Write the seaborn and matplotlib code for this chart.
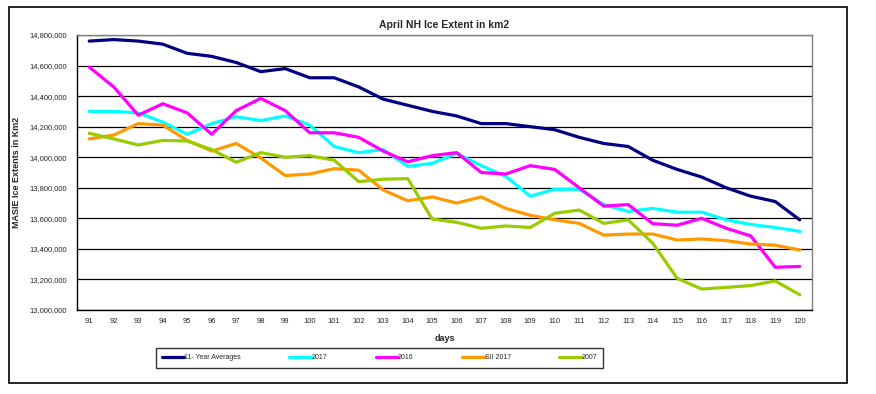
import numpy as np
import pandas as pd
import matplotlib
matplotlib.use("Agg")
import matplotlib.pyplot as plt
import seaborn as sns
from matplotlib.patches import Rectangle
from matplotlib.ticker import FuncFormatter, MultipleLocator

days = list(range(91, 121))

avg_11yr = [14760000, 14770000, 14760000, 14740000, 14680000, 14660000, 14620000, 14560000,
            14580000, 14520000, 14520000, 14460000, 14380000, 14340000, 14300000, 14270000,
            14220000, 14220000, 14200000, 14180000, 14130000, 14090000, 14070000, 13980000,
            13920000, 13870000, 13800000, 13745000, 13710000, 13590000]
y2017 = [14300000, 14300000, 14290000, 14230000, 14150000, 14220000, 14265000, 14240000,
         14270000, 14210000, 14070000, 14030000, 14050000, 13940000, 13960000, 14025000,
         13945000, 13875000, 13745000, 13790000, 13790000, 13690000, 13645000, 13665000,
         13640000, 13640000, 13590000, 13560000, 13540000, 13515000]
y2016 = [14590000, 14460000, 14275000, 14350000, 14290000, 14150000, 14305000, 14385000,
         14305000, 14160000, 14160000, 14130000, 14040000, 13970000, 14010000, 14030000,
         13900000, 13890000, 13945000, 13920000, 13800000, 13680000, 13690000, 13565000,
         13555000, 13600000, 13535000, 13485000, 13280000, 13285000]
sii2017 = [14120000, 14145000, 14220000, 14210000, 14110000, 14040000, 14090000, 13995000,
           13880000, 13890000, 13925000, 13915000, 13785000, 13715000, 13740000, 13700000,
           13740000, 13665000, 13620000, 13590000, 13567000, 13490000, 13497000, 13497000,
           13458000, 13465000, 13454000, 13432000, 13424000, 13393000]
y2007 = [14157000, 14120000, 14080000, 14110000, 14106000, 14050000, 13967000, 14030000,
         14000000, 14010000, 13980000, 13840000, 13856000, 13860000, 13595000, 13574000,
         13535000, 13550000, 13540000, 13633000, 13654000, 13567000, 13590000, 13437000,
         13207000, 13137000, 13148000, 13160000, 13190000, 13100000]

series_names = ["11- Year Averages", "2017", "2016", "SII 2017", "2007"]
series_values = [avg_11yr, y2017, y2016, sii2017, y2007]
colors = ["#000080", "#00FFFF", "#FF00FF", "#FF9900", "#99CC00"]

df = pd.DataFrame({
    "day": days * len(series_names),
    "extent": sum(series_values, []),
    "series": sum([[n] * len(days) for n in series_names], []),
})

sns.set_style("white")
plt.rcParams["font.family"] = ["Liberation Sans", "DejaVu Sans"]

fig = plt.figure(figsize=(8.76, 3.94), dpi=100)
fig.patches.append(Rectangle((0.0103, 0.0279), 0.9566, 0.954, transform=fig.transFigure,
                             fill=False, edgecolor="black", linewidth=1.2))
ax = fig.add_axes([0.0879, 0.2132, 0.839, 0.698])

sns.lineplot(data=df, x="day", y="extent", hue="series", palette=colors,
             hue_order=series_names, linewidth=2.3, ax=ax, legend=False)

ax.set_xlim(90.5, 120.5)
ax.set_ylim(13000000, 14800000)
ax.yaxis.set_major_locator(MultipleLocator(200000))
ax.yaxis.set_major_formatter(FuncFormatter(lambda v, p: f"{int(v):,}"))
ax.set_xticks(days)
ax.set_xticklabels([str(d) for d in days])
ax.set_xticks(np.arange(90.5, 121, 1), minor=True)
ax.tick_params(axis="x", which="major", length=0, labelsize=5.5, pad=6)
ax.tick_params(axis="x", which="minor", length=3, width=0.8, color="black", direction="out")
ax.tick_params(axis="y", length=0, labelsize=5.5, pad=7)
ax.grid(axis="y", color="black", linewidth=0.9)
ax.set_axisbelow(True)

for s in ["left", "bottom"]:
    ax.spines[s].set_color("black")
    ax.spines[s].set_linewidth(1.0)
for s in ["top", "right"]:
    ax.spines[s].set_color("#808080")
    ax.spines[s].set_linewidth(1.0)

ax.set_title("April NH Ice Extent in km2", fontsize=7.5, fontweight="bold", pad=5)
ax.set_xlabel("days", fontsize=6.5, fontweight="bold", labelpad=6)
ax.set_ylabel("MASIE Ice Extents in Km2", fontsize=6.5, fontweight="bold", labelpad=6)

handles = [plt.Line2D([0], [0], color=c, linewidth=2.3) for c in colors]
leg = fig.legend(handles, series_names, loc="center", ncol=5,
                 bbox_to_anchor=(0.4332, 0.0914), fontsize=5, frameon=True,
                 fancybox=False, edgecolor="black", handlelength=3.2,
                 handletextpad=0.0, columnspacing=7.0, borderpad=0.9)
leg.get_frame().set_linewidth(1.0)

fig.savefig("out.png", dpi=100)
